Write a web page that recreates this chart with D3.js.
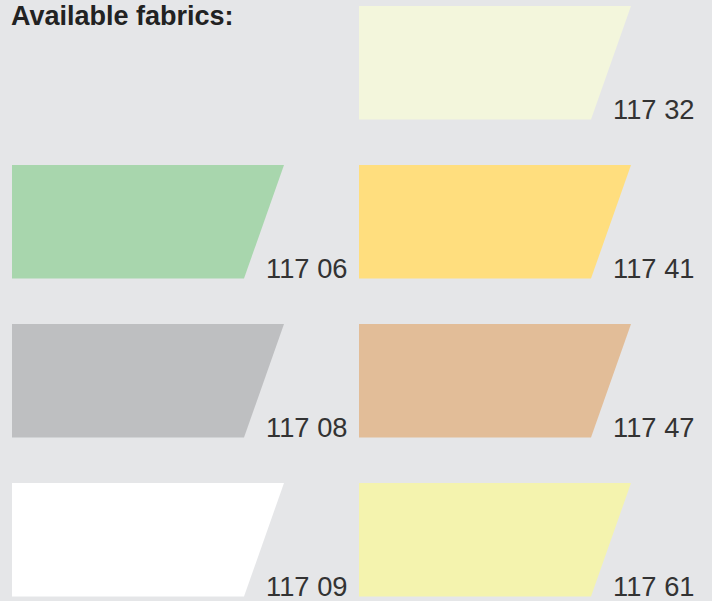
<html>
<head>
    <script src="https://d3js.org/d3.v7.min.js"></script>
    <style>
        body {
            margin: 0;
            background: #e5e6e8;
            font-family: "Liberation Sans", Arial, Helvetica, sans-serif;
        }
        .code {
            font-size: 27.3px;
            fill: #333;
        }
        .title {
            font-size: 27px;
            font-weight: bold;
            fill: #222;
        }
    </style>
</head>
<body>
    <svg id="fabrics" width="712" height="601"></svg>
    <script>
        // fabric codes, swatch colours and their grid slot (column, row)
        const codes = ["117 32", "117 06", "117 41", "117 08", "117 47", "117 09", "117 61"];
        const colors = ["#f3f6dc", "#a8d6ad", "#ffde7e", "#bebfc1", "#e2bd98", "#ffffff", "#f4f3ae"];
        const cols = [1, 0, 1, 0, 1, 0, 1];
        const rows = [0, 1, 1, 2, 2, 3, 3];

        const data = codes.map((c, i) => ({ code: c, color: colors[i], col: cols[i], row: rows[i] }));

        const svg = d3.select("svg#fabrics");

        const xScale = d3.scaleLinear().domain([0, 1]).range([12, 359]);
        const yScale = d3.scaleLinear().domain([0, 3]).range([6, 483]);

        const topW = 272, botW = 232, h = 113.5;

        svg.append("rect")
            .attr("width", 712).attr("height", 601)
            .attr("fill", "#e5e6e8");

        svg.append("text")
            .attr("class", "title")
            .attr("x", 11)
            .attr("y", 24.5)
            .text("Available fabrics:");

        const sw = svg.selectAll("g.swatch")
            .data(data)
            .join("g")
            .attr("class", "swatch")
            .attr("transform", d => `translate(${xScale(d.col)},${yScale(d.row)})`);

        sw.append("path")
            .attr("d", `M0,0 L${topW},0 L${botW},${h} L0,${h} Z`)
            .attr("fill", d => d.color);

        sw.append("text")
            .attr("class", "code")
            .attr("x", 335.5)
            .attr("y", h - 1)
            .attr("text-anchor", "end")
            .text(d => d.code);
    </script>
</body>
</html>
